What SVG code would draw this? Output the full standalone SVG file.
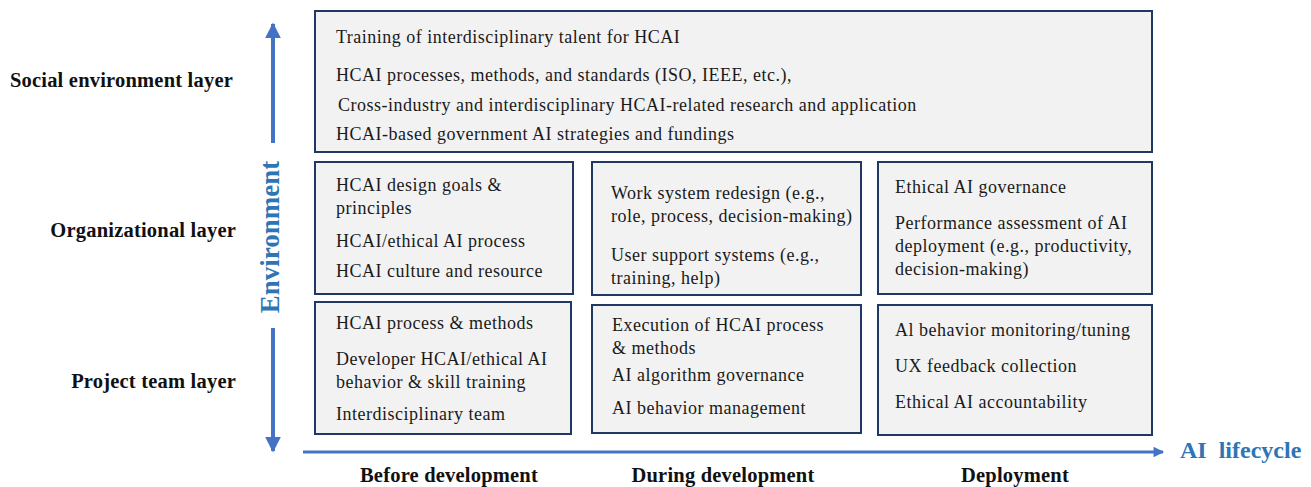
<svg xmlns="http://www.w3.org/2000/svg" width="1311" height="487" viewBox="0 0 1311 487">
<style>
.box{fill:#f2f2f2;stroke:#1f3864;stroke-width:2}
.t{font-family:"Liberation Serif","Times New Roman",serif;font-size:18px;letter-spacing:0.5px;fill:#1a1a1a}
.lab{font-family:"Liberation Serif","Times New Roman",serif;font-size:20.5px;font-weight:bold;letter-spacing:0.2px;fill:#111}
.blue{font-family:"Liberation Serif","Times New Roman",serif;font-weight:bold;fill:#2e75b6}
.ax{stroke:#4472c4;stroke-width:4;fill:none}
.axh{stroke:#4472c4;stroke-width:3;fill:none}
</style>
<defs>
<marker id="ah" viewBox="0 0 10 10" refX="9" refY="5" markerWidth="4" markerHeight="4" orient="auto" markerUnits="strokeWidth">
<path d="M0,0 L10,5 L0,10 z" fill="#4472c4"/>
</marker>
<marker id="ah2" viewBox="0 0 10 10" refX="9" refY="5" markerWidth="4" markerHeight="3.5" orient="auto" markerUnits="strokeWidth">
<path d="M0,0 L10,5 L0,10 z" fill="#4472c4"/>
</marker>
</defs>
<rect width="1311" height="487" fill="#fff"/>
<g id="connectors">
<line class="ax" x1="273" y1="143" x2="273" y2="24" marker-end="url(#ah)"/>
<line class="ax" x1="273" y1="328" x2="273" y2="451" marker-end="url(#ah)"/>
<line class="axh" x1="303" y1="452" x2="1163" y2="452" marker-end="url(#ah2)"/>
</g>
<g id="labels">
<text class="lab" x="233" y="87" text-anchor="end">Social environment layer</text>
<text class="lab" x="236" y="237" text-anchor="end">Organizational layer</text>
<text class="lab" x="236" y="388" text-anchor="end">Project team layer</text>
<text class="blue" font-size="27" transform="translate(279,237) rotate(-90)" text-anchor="middle">Environment</text>
<text class="blue" font-size="24" x="1180" y="458">AI&#160; lifecycle</text>
<text class="lab" x="449" y="482" text-anchor="middle">Before development</text>
<text class="lab" x="723" y="482" text-anchor="middle">During development</text>
<text class="lab" x="1015" y="482" text-anchor="middle">Deployment</text>
</g>
<g id="social">
<rect class="box" x="315" y="11" width="837" height="141"/>
<text class="t" x="336" y="43">Training of interdisciplinary talent for HCAI</text>
<text class="t" x="336" y="81">HCAI processes, methods, and standards (ISO, IEEE, etc.),</text>
<text class="t" x="338" y="111">Cross-industry and interdisciplinary HCAI-related research and application</text>
<text class="t" x="336" y="140">HCAI-based government AI strategies and fundings</text>
</g>
<g id="org-before">
<rect class="box" x="315" y="162" width="258" height="132"/>
<text class="t" x="336" y="191">HCAI design goals &amp;</text>
<text class="t" x="336" y="214">principles</text>
<text class="t" x="336" y="247">HCAI/ethical AI process</text>
<text class="t" x="336" y="277">HCAI culture and resource</text>
</g>
<g id="org-during">
<rect class="box" x="592" y="162" width="269" height="133"/>
<text class="t" x="611" y="199">Work system redesign (e.g.,</text>
<text class="t" x="611" y="222">role, process, decision-making)</text>
<text class="t" x="611" y="261">User support systems (e.g.,</text>
<text class="t" x="611" y="284">training, help)</text>
</g>
<g id="org-deploy">
<rect class="box" x="878" y="162" width="274" height="132"/>
<text class="t" x="895" y="193">Ethical AI governance</text>
<text class="t" x="895" y="229">Performance assessment of AI</text>
<text class="t" x="895" y="252">deployment (e.g., productivity,</text>
<text class="t" x="895" y="275">decision-making)</text>
</g>
<g id="team-before">
<rect class="box" x="315" y="302" width="256" height="132"/>
<text class="t" x="336" y="329">HCAI process &amp; methods</text>
<text class="t" x="336" y="365">Developer HCAI/ethical AI</text>
<text class="t" x="336" y="388">behavior &amp; skill training</text>
<text class="t" x="336" y="420">Interdisciplinary team</text>
</g>
<g id="team-during">
<rect class="box" x="592" y="305" width="269" height="128"/>
<text class="t" x="612" y="331">Execution of HCAI process</text>
<text class="t" x="612" y="354">&amp; methods</text>
<text class="t" x="612" y="381">AI algorithm governance</text>
<text class="t" x="612" y="414">AI behavior management</text>
</g>
<g id="team-deploy">
<rect class="box" x="878" y="305" width="274" height="130"/>
<text class="t" x="895" y="336">Al behavior monitoring/tuning</text>
<text class="t" x="895" y="372">UX feedback collection</text>
<text class="t" x="895" y="408">Ethical AI accountability</text>
</g>
</svg>
